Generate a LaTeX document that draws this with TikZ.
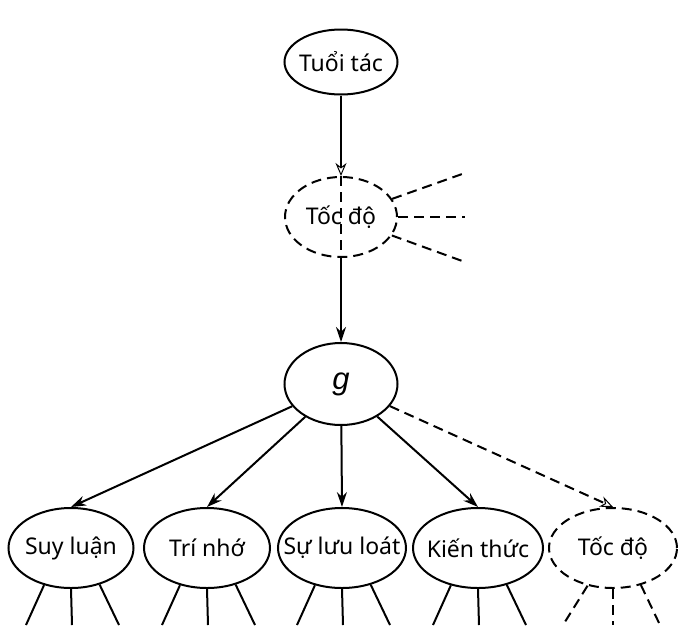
\documentclass[tikz,border=0pt]{standalone}
\usepackage{fontspec}
\setmainfont{Noto Sans}
\newfontfamily\gfont{Liberation Sans}
\usetikzlibrary{shapes.geometric,arrows.meta,calc}
% label text that does not widen its ellipse
\newcommand{\lbl}[1]{\makebox[0pt]{#1}}
\begin{document}
\begin{tikzpicture}[x=1pt,y=-1pt,
  line width=2pt,
  var/.style={draw,ellipse,inner sep=0pt,minimum width=126pt,minimum height=80pt,
    font=\fontsize{23}{25}\selectfont},
  latent/.style={var,dash pattern=on 10pt off 6pt},
  dsh/.style={dash pattern=on 10pt off 6pt},
  arr/.style={-{Stealth[length=15pt,width=10pt]}},
  oarr/.style={-{Stealth[open,length=13pt,width=11pt,line width=1pt]}}]
\useasboundingbox (0,0) rectangle (678,625);

% top chain: age -> speed -> g
\node[var,minimum width=113pt,minimum height=65pt] (age) at (341,62) {\lbl{Tuổi tác}};
\node[latent,minimum width=112pt] (spd) at (341,217) {\lbl{Tốc độ}};
\node[var,minimum width=113pt,minimum height=82pt] (g) at (341,384) {\lbl{\gfont\fontsize{31}{31}\selectfont\itshape g}};

\draw[oarr] (age) -- (spd);
\draw[dsh] (spd.north) -- (spd.south);
\draw[arr] (spd) -- (g);

% loose ends to the right of the speed factor
\coordinate (r1) at (465,173);
\coordinate (r2) at (465,217);
\coordinate (r3) at (465,262);
\draw[dsh] (spd) -- (r1);
\draw[dsh] (spd) -- (r2);
\draw[dsh] (spd) -- (r3);

% first-order factors
\node[var,minimum width=125pt] (f1) at (71,548) {\lbl{Suy luận}};
\node[var] (f2) at (207,548) {\lbl{Trí nhớ}};
\node[var,minimum width=128pt] (f3) at (342,548) {\lbl{Sự lưu loát}};
\node[var,minimum width=130pt] (f4) at (478,548) {\lbl{Kiến thức}};
\node[latent,minimum width=128pt] (f5) at (613,548) {\lbl{Tốc độ}};

\draw[arr] (g) -- (f1.north);
\draw[arr] (g) -- (f2.north);
\draw[arr] (g) -- (f3.north);
\draw[arr] (g) -- (f4.north);
\draw[oarr,dsh] (g) -- (f5.north);

% indicator stubs below each factor
\foreach \f in {f1,f2,f3,f4}{
  \coordinate (\f l) at ($(\f.center)+(-45,77)$);
  \coordinate (\f m) at ($(\f.center)+(1,77)$);
  \coordinate (\f r) at ($(\f.center)+(48,77)$);
  \draw (\f.234) -- (\f l);
  \draw (\f.south) -- (\f m);
  \draw (\f.308) -- (\f r);
}
\coordinate (f5l) at ($(f5.center)+(-50,77)$);
\coordinate (f5m) at ($(f5.center)+(0,77)$);
\coordinate (f5r) at ($(f5.center)+(47,77)$);
\draw[dsh] (f5.236) -- (f5l);
\draw[dsh] (f5.south) -- (f5m);
\draw[dsh] (f5.307) -- (f5r);
\end{tikzpicture}
\end{document}
